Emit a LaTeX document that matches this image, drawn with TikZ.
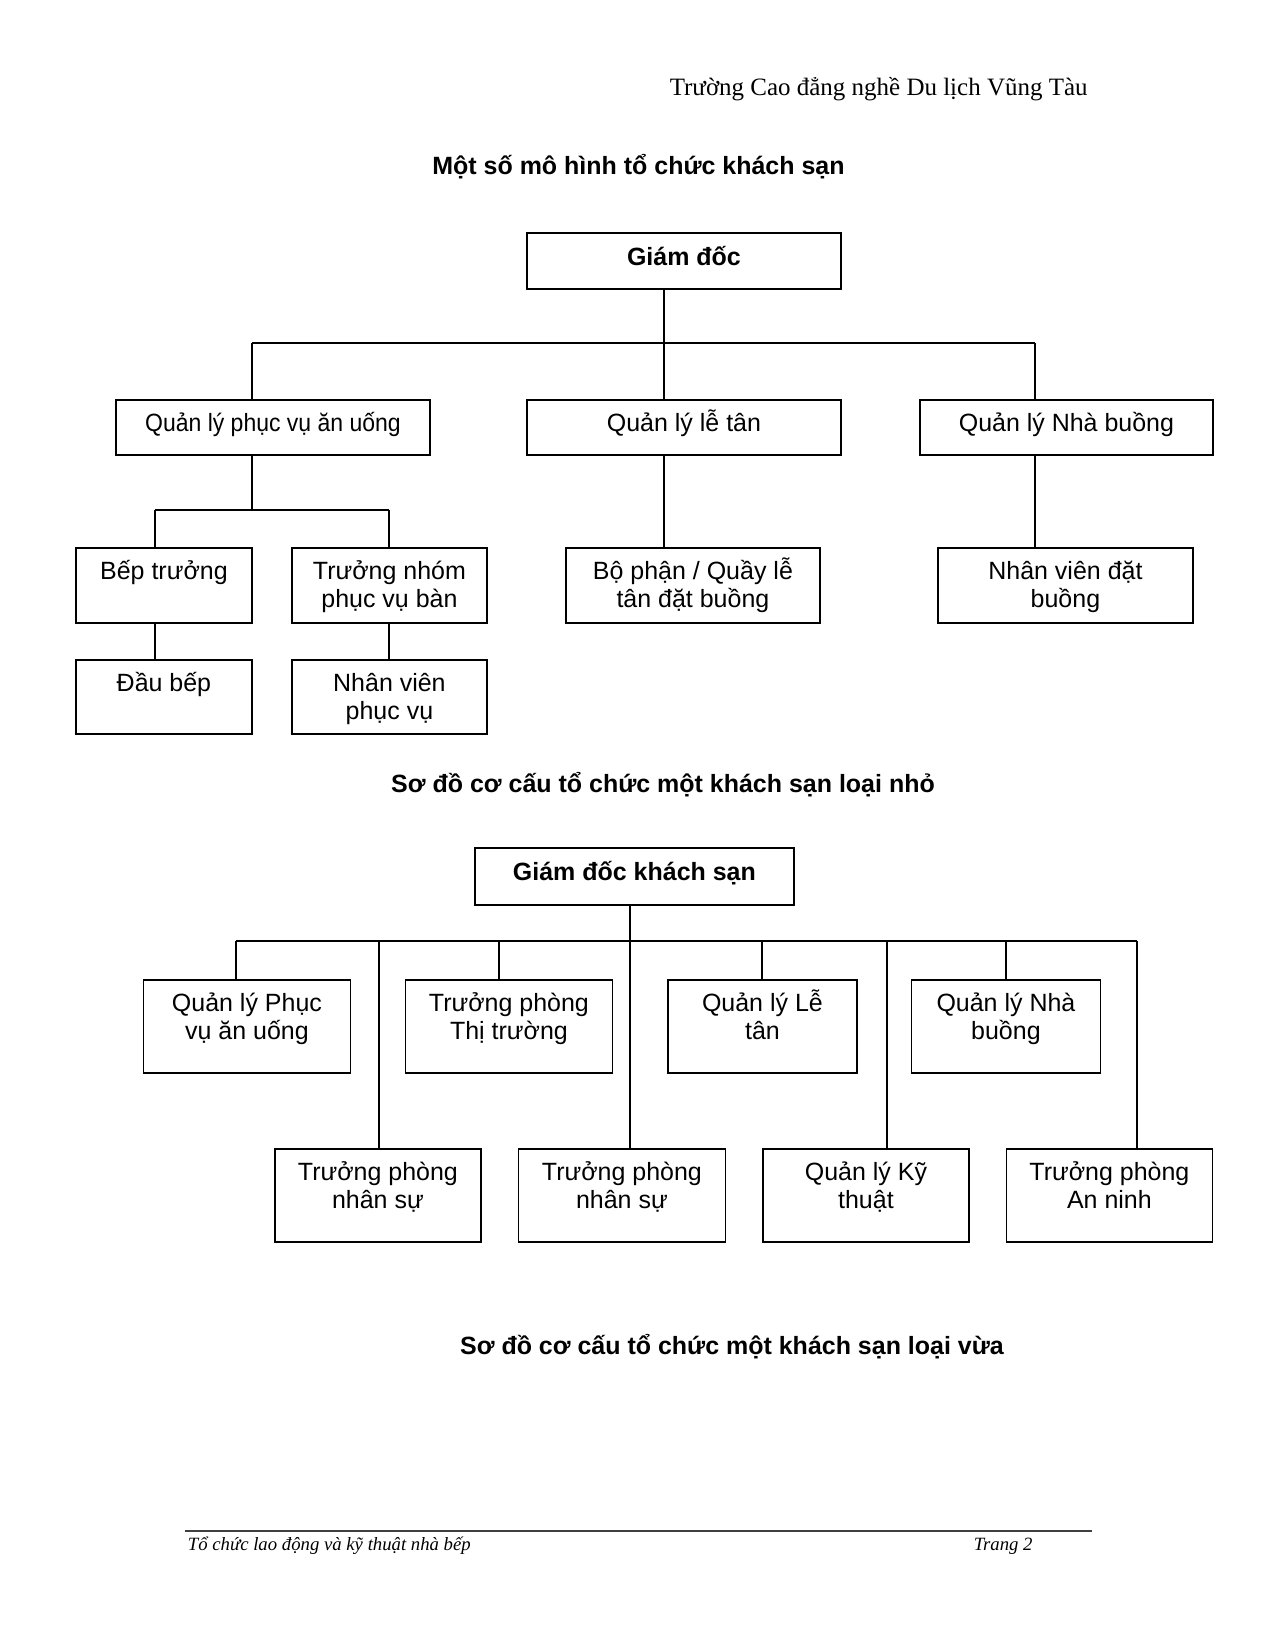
\documentclass[tikz,border=0pt]{standalone}
\usepackage{fontspec}
\setmainfont{Liberation Serif}
\setsansfont{Liberation Sans}
\usetikzlibrary{positioning}

\newdimen\px
\px=0.4804pt

\tikzset{
  orgbox/.style 2 args={draw, line width=0.9pt, minimum width=#1*\px, minimum height=#2*\px, inner sep=0pt, anchor=north west},
  boxtext/.style={anchor=base, align=center, inner sep=0pt, yshift=-15.4pt, font=\sffamily\fontsize{12}{13.8}\selectfont},
  twolines/.style={yshift=-13.8pt},
  boxhead/.style={boxtext, yshift=-0.6pt, font=\sffamily\bfseries\fontsize{12}{13.8}\selectfont},
  charttitle/.style={anchor=base, inner sep=0pt, font=\sffamily\bfseries\fontsize{12}{13.8}\selectfont},
  link/.style={line width=0.6pt},
  bus/.style={line width=0.9pt},
}

\begin{document}
\begin{tikzpicture}[x=0.4804pt, y=-0.4804pt]
\path[fill=white, use as bounding box] (0,0) rectangle (1274,1649) ;

\path
(1088,95) node[anchor=base east, inner sep=0pt, font=\fontsize{12}{13.8}\selectfont] (school) {Trường Cao đẳng nghề Du lịch Vũng Tàu}
(638.5,174) node[charttitle] (title-a) {Một số mô hình tổ chức khách sạn}
(663,792) node[charttitle] (title-b) {Sơ đồ cơ cấu tổ chức một khách sạn loại nhỏ}
(732,1354) node[charttitle] (title-c) {Sơ đồ cơ cấu tổ chức một khách sạn loại vừa}
(187.5,1550) node[anchor=base west, inner sep=0pt, font=\itshape\fontsize{9}{11}\selectfont] (foot-l) {Tổ chức lao động và kỹ thuật nhà bếp}
(1033,1550) node[anchor=base east, inner sep=0pt, font=\itshape\fontsize{9}{11}\selectfont] (foot-r) {Trang 2}
;

\coordinate (foot-a) at (185,1531) ;
\coordinate (foot-b) at (1092,1531) ;
\draw[line width=0.7pt, black!75] (foot-a) -- (foot-b) ;

% first chart
\path
(526,232) node[orgbox={314}{56}] (giam-doc) {}
node[boxhead] (giam-doc-t) at (giam-doc.north) {Giám đốc}
(115,399) node[orgbox={314}{55}] (ql-pv) {}
node[boxtext] (ql-pv-t) at (ql-pv.north) {\scalebox{0.92}[1]{Quản lý phục vụ ăn uống}}
(526,399) node[orgbox={314}{55}] (ql-lt) {}
node[boxtext] (ql-lt-t) at (ql-lt.north) {Quản lý lễ tân}
(919,399) node[orgbox={293}{55}] (ql-nb) {}
node[boxtext] (ql-nb-t) at (ql-nb.north) {Quản lý Nhà buồng}
(75,547) node[orgbox={176}{75}] (bep-tr) {}
node[boxtext] (bep-tr-t) at (bep-tr.north) {Bếp trưởng}
(291,547) node[orgbox={195}{75}] (tr-nhom) {}
node[boxtext, twolines] (tr-nhom-t) at (tr-nhom.north) {Trưởng nhóm\\phục vụ bàn}
(565,547) node[orgbox={254}{75}] (bp-lt) {}
node[boxtext, twolines] (bp-lt-t) at (bp-lt.north) {Bộ phận / Quầy lễ\\tân đặt buồng}
(937,547) node[orgbox={255}{75}] (nv-db) {}
node[boxtext, twolines] (nv-db-t) at (nv-db.north) {Nhân viên đặt\\buồng}
(75,659) node[orgbox={176}{74}] (dau-bep) {}
node[boxtext] (dau-bep-t) at (dau-bep.north) {Đầu bếp}
(291,659) node[orgbox={195}{74}] (nv-pv) {}
node[boxtext, twolines] (nv-pv-t) at (nv-pv.north) {Nhân viên\\phục vụ}
;

\coordinate (bus-a) at (664,343) ;
\coordinate (bus-b) at (252,343) ;
\coordinate (bus-c) at (1035,343) ;
\coordinate (sub-a) at (155,510) ;
\coordinate (sub-b) at (389,510) ;

\draw[bus] (bus-b) -- (bus-c) ;
\draw[bus] (sub-a) -- (sub-b) ;

\draw[link] (giam-doc.south -| bus-a) -- (ql-lt.north -| bus-a) ;
\draw[link] (ql-lt.south -| bus-a) -- (bp-lt.north -| bus-a) ;
\draw[link] (bus-b) -- (ql-pv.north -| bus-b) ;
\draw[link] (bus-c) -- (ql-nb.north -| bus-c) ;
\draw[link] (ql-nb.south -| bus-c) -- (nv-db.north -| bus-c) ;
\draw[link] (ql-pv.south -| bus-b) -- (sub-a -| bus-b) ;
\draw[link] (sub-a) -- (bep-tr.north -| sub-a) ;
\draw[link] (sub-b) -- (tr-nhom.north -| sub-b) ;
\draw[link] (bep-tr.south -| sub-a) -- (dau-bep.north -| sub-a) ;
\draw[link] (tr-nhom.south -| sub-b) -- (nv-pv.north -| sub-b) ;

% second chart
\path
(474,847) node[orgbox={319}{57}] (gd-ks) {}
node[boxhead] (gd-ks-t) at (gd-ks.north) {Giám đốc khách sạn}
(142.5,979) node[orgbox={207}{93}] (ks-pv) {}
node[boxtext, twolines] (ks-pv-t) at (ks-pv.north) {Quản lý Phục\\vụ ăn uống}
(404.5,979) node[orgbox={207}{93}] (ks-tt) {}
node[boxtext, twolines] (ks-tt-t) at (ks-tt.north) {Trưởng phòng\\Thị trường}
(667,979) node[orgbox={189}{93}] (ks-lt) {}
node[boxtext, twolines] (ks-lt-t) at (ks-lt.north) {Quản lý Lễ\\tân}
(910.5,979) node[orgbox={189}{93}] (ks-nb) {}
node[boxtext, twolines] (ks-nb-t) at (ks-nb.north) {Quản lý Nhà\\buồng}
(274,1148) node[orgbox={206}{93}] (ks-ns-a) {}
node[boxtext, twolines] (ks-ns-a-t) at (ks-ns-a.north) {Trưởng phòng\\nhân sự}
(517.5,1148) node[orgbox={207}{93}] (ks-ns-b) {}
node[boxtext, twolines] (ks-ns-b-t) at (ks-ns-b.north) {Trưởng phòng\\nhân sự}
(762,1148) node[orgbox={206}{93}] (ks-kt) {}
node[boxtext, twolines] (ks-kt-t) at (ks-kt.north) {Quản lý Kỹ\\thuật}
(1005.5,1148) node[orgbox={206}{93}] (ks-an) {}
node[boxtext, twolines] (ks-an-t) at (ks-an.north) {Trưởng phòng\\An ninh}
;

\coordinate (k1) at (236,941) ;
\coordinate (k2) at (379,941) ;
\coordinate (k3) at (499,941) ;
\coordinate (k4) at (630,941) ;
\coordinate (k5) at (762,941) ;
\coordinate (k6) at (887,941) ;
\coordinate (k7) at (1006,941) ;
\coordinate (k8) at (1137,941) ;

\draw[bus] (k1) -- (k8) ;
\draw[link] (gd-ks.south -| k4) -- (k4) ;

\foreach \k/\b in {k1/ks-pv, k2/ks-ns-a, k3/ks-tt, k4/ks-ns-b, k5/ks-lt, k6/ks-kt, k7/ks-nb, k8/ks-an}
  \draw[link] (\k) -- (\b.north -| \k) ;

\end{tikzpicture}
\end{document}
